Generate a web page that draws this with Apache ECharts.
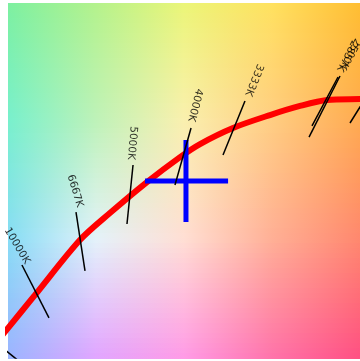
<!DOCTYPE html>
<html><head><meta charset="utf-8">
<script src="https://cdn.jsdelivr.net/npm/echarts@6/dist/echarts.min.js"></script>
<style>html,body{margin:0;padding:0;background:#fff}#c{width:360px;height:361px}</style>
</head><body><div id="c"></div>
<script>
// Planckian locus (CIE 1931 x, y)
const locusX = [0.2543,0.2600,0.2792,0.3111,0.3324,0.3587,0.3822,0.3964,0.4198,0.4461,0.4674,0.4866,0.5100,0.5200];
const locusY = [0.2541,0.2611,0.2844,0.3231,0.3421,0.3639,0.3815,0.3907,0.4020,0.4111,0.4175,0.4217,0.4224,0.4226];

// iso-temperature lines: start / end points
const isoNames = ['10000K','6667K','5000K','4000K','3333K','2857K','2500K','2222K','15000K'];
const isoX1 = [0.2699,0.3083,0.3488,0.3900,0.4283,0.4958,0.4944,0.5171,0.2543];
const isoY1 = [0.3055,0.3428,0.3759,0.4020,0.4210,0.4386,0.4379,0.4280,0.2485];
const isoX2 = [0.2891,0.3147,0.3445,0.3786,0.4127,0.4738,0.4759,0.5029,0.2685];
const isoY2 = [0.2682,0.3013,0.3344,0.3618,0.3830,0.3956,0.4034,0.4055,0.2372];

// label anchors of the iso-temperature lines
const labelNames = ['10000K','6667K','5000K','4000K','3333K','2857K','2500K'];
const labelX = [0.2664,0.3076,0.3481,0.3928,0.4347,0.5008,0.5029];
const labelY = [0.3189,0.3576,0.3914,0.4182,0.4358,0.4527,0.4541];
const labelRotate = [-59,-73,-95,-104,-112,-117,-118];

// crosshair (test point)
const crossHX = [0.3573,0.4163], crossHY = [0.3646,0.3646];
const crossVX = [0.3864,0.3864], crossVY = [0.3935,0.3358];

// axis ranges
const xMin = 0.26, xMax = 0.51, yMin = 0.24, yMax = 0.49;

// background colour field (rows top->bottom, columns left->right)
const bgRows = [
  [[125,240,160],[180,242,140],[235,245,120],[255,225,95],[255,190,50]],
  [[120,240,205],[190,242,185],[250,240,175],[255,205,130],[255,170,80]],
  [[135,220,245],[228,242,250],[255,222,212],[255,175,150],[255,135,110]],
  [[155,180,255],[225,165,255],[255,155,230],[255,115,170],[255,80,130]]
];

const G = {left: 8, top: 3, width: 352, height: 355};
const chart = echarts.init(document.getElementById('c'), null, {renderer: 'canvas'});

const bgEls = [];
const N = 71;
for (let i = 0; i < N; i++) {
  const t = (i + 0.5) / N * (bgRows.length - 1);
  const r0 = Math.min(Math.floor(t), bgRows.length - 2);
  const f = t - r0;
  const stops = bgRows[r0].map((c, j) => {
    const d = bgRows[r0 + 1][j];
    const m = c.map((v, k) => Math.round(v + (d[k] - v) * f));
    return {offset: j / (bgRows[0].length - 1), color: 'rgb(' + m.join(',') + ')'};
  });
  bgEls.push({
    type: 'rect', silent: true, z: -10,
    shape: {x: G.left, y: G.top + i * G.height / N, width: G.width, height: G.height / N + 1},
    style: {fill: {type: 'linear', x: 0, y: 0, x2: 1, y2: 0, colorStops: stops}}
  });
}

const series = [];
series.push({
  type: 'line', z: 2, clip: true, showSymbol: false, smooth: 0.3, silent: true,
  data: locusX.map((x, i) => [x, locusY[i]]),
  lineStyle: {color: '#ff0000', width: 6}
});
series.push({
  type: 'line', z: 3, clip: true, showSymbol: false, silent: true,
  data: [[crossHX[0], crossHY[0]], [crossHX[1], crossHY[1]]],
  lineStyle: {color: '#0000ff', width: 5, cap: 'butt'}
});
series.push({
  type: 'line', z: 3, clip: true, showSymbol: false, silent: true,
  data: [[crossVX[0], crossVY[0]], [crossVX[1], crossVY[1]]],
  lineStyle: {color: '#0000ff', width: 5, cap: 'butt'}
});
isoNames.forEach((n, i) => {
  series.push({
    type: 'line', name: n, z: 4, clip: true, showSymbol: false, silent: true,
    data: [[isoX1[i], isoY1[i]], [isoX2[i], isoY2[i]]],
    lineStyle: {color: '#000', width: 1.5}
  });
});
series.push({
  type: 'scatter', z: 5, symbolSize: 0, clip: false, silent: true,
  data: labelNames.map((n, i) => ({
    name: n, value: [labelX[i], labelY[i]],
    label: {rotate: labelRotate[i]}
  })),
  label: {
    show: true, position: 'inside', align: 'center', verticalAlign: 'middle',
    formatter: p => p.name, color: '#000', fontSize: 10.5, fontFamily: 'DejaVu Sans'
  }
});

chart.setOption({
  animation: false,
  backgroundColor: '#fff',
  graphic: {elements: bgEls},
  grid: {left: G.left, top: G.top, width: G.width, height: G.height, containLabel: false},
  xAxis: {type: 'value', min: xMin, max: xMax, show: false, splitLine: {show: false}},
  yAxis: {type: 'value', min: yMin, max: yMax, show: false, splitLine: {show: false}},
  series: series
});
</script>
</body></html>
